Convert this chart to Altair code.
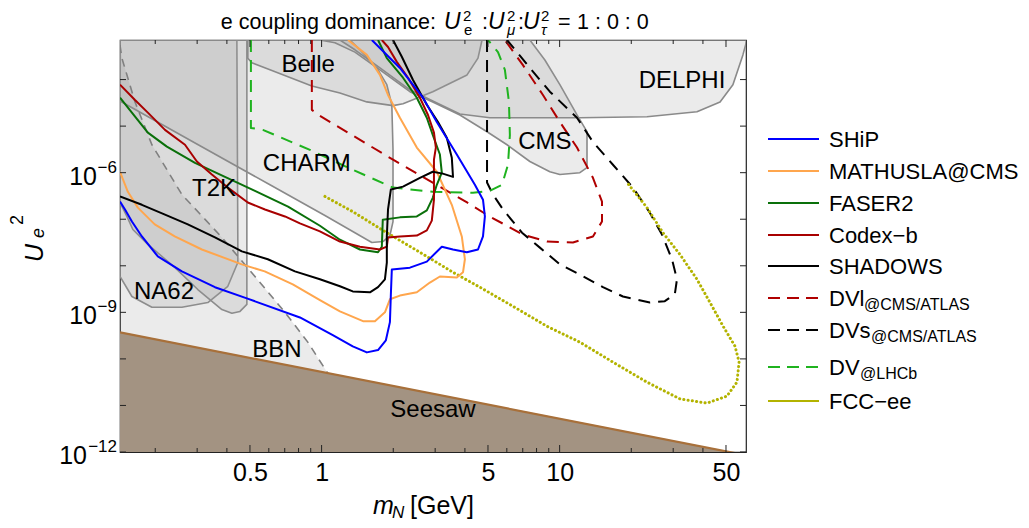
import altair as alt
import numpy as np
import pandas as pd

W, H = 626, 412
FONT = "Liberation Sans"
X_DOMAIN = [10 ** -0.847, 10 ** 1.783]
Y_DOMAIN = [1e-12, 10 ** -3.15]

# ---- sensitivity curves: log10(m_N / GeV), log10(U_e^2) ----
SHIP_LM = [-0.847, -0.826, -0.797, -0.755, -0.688, -0.587, -0.448, -0.314, -0.091, 0.047, 0.131, 0.190, 0.237, 0.270,
           0.287, 0.291, 0.295, 0.371, 0.442, 0.505, 0.552, 0.610, 0.657, 0.678, 0.686, 0.678, 0.644, 0.568, 0.484,
           0.426, 0.329, 0.211]
SHIP_LU = [-6.62, -6.79, -7.05, -7.37, -7.80, -8.12, -8.46, -8.70, -9.11, -9.49, -9.73, -9.86, -9.81, -9.60, -9.21,
           -8.61, -8.08, -8.04, -7.91, -7.59, -7.65, -7.71, -7.65, -7.37, -6.94, -6.58, -6.26, -5.61, -4.91, -4.39,
           -3.75, -3.15]
MATH_LM = [-0.847, -0.814, -0.772, -0.701, -0.617, -0.503, -0.335, -0.239, -0.121, -0.007, 0.077, 0.174, 0.224, 0.266,
           0.287, 0.329, 0.400, 0.455, 0.497, 0.568, 0.594, 0.602, 0.589, 0.547, 0.484, 0.400, 0.329, 0.279, 0.245,
           0.190, 0.111]
MATH_LU = [-5.98, -6.41, -6.75, -7.11, -7.37, -7.65, -7.97, -8.12, -8.40, -8.74, -8.98, -9.19, -9.19, -9.00, -8.72,
           -8.64, -8.57, -8.36, -8.23, -8.25, -8.14, -7.86, -7.37, -6.69, -5.98, -5.46, -4.82, -4.33, -3.90, -3.47,
           -3.15]
FASER_LM = [-0.847, -0.797, -0.730, -0.650, -0.532, -0.406, -0.280, -0.141, -0.007, 0.077, 0.161, 0.237, 0.253, 0.257,
            0.329, 0.400, 0.442, 0.467, 0.484, 0.505, 0.497, 0.467, 0.442, 0.400, 0.342, 0.274, 0.237]
FASER_LU = [-4.39, -4.71, -5.14, -5.44, -5.79, -6.09, -6.39, -6.73, -7.14, -7.44, -7.65, -7.71, -7.59, -7.01, -6.96,
            -6.94, -6.81, -6.54, -6.26, -6.00, -5.61, -5.19, -4.82, -4.39, -3.96, -3.54, -3.15]
CODEX_LM = [-0.847, -0.784, -0.730, -0.658, -0.574, -0.524, -0.461, -0.394, -0.310, -0.238, -0.154, -0.091, -0.007,
            0.077, 0.161, 0.245, 0.274, 0.279, 0.329, 0.400, 0.442, 0.463, 0.472, 0.472, 0.472, 0.480, 0.472, 0.447,
            0.413, 0.363, 0.316, 0.279, 0.253]
CODEX_LU = [-4.11, -4.44, -4.71, -5.08, -5.40, -5.76, -6.04, -6.32, -6.64, -6.79, -6.94, -7.09, -7.26, -7.48, -7.59,
            -7.65, -7.59, -7.39, -7.37, -7.35, -7.24, -7.03, -6.58, -6.09, -5.72, -5.46, -5.14, -4.76, -4.39, -3.96,
            -3.62, -3.30, -3.15]
SHADOWS_LM = [-0.847, -0.755, -0.658, -0.562, -0.448, -0.335, -0.226, -0.112, -0.007, 0.077, 0.131, 0.203, 0.237,
              0.266, 0.274, 0.274, 0.279, 0.291, 0.342, 0.413, 0.467, 0.509, 0.552, 0.547, 0.526, 0.489, 0.442, 0.384,
              0.337, 0.300]
SHADOWS_LU = [-6.51, -6.69, -6.90, -7.11, -7.39, -7.69, -7.86, -8.12, -8.29, -8.44, -8.55, -8.57, -8.46, -8.29, -7.93,
              -7.37, -6.79, -6.36, -6.30, -6.11, -5.98, -6.02, -6.09, -5.68, -5.25, -4.91, -4.54, -4.01, -3.51, -3.15]
DVL_LM = [-0.041, -0.041, -0.007, 0.300, 0.611, 0.699, 0.846, 0.947, 1.056, 1.140, 1.178, 1.178, 1.140, 1.073, 1.001,
          0.930, 0.846, 0.770]
DVL_LU = [-3.15, -4.65, -4.78, -5.72, -6.64, -6.92, -7.33, -7.48, -7.50, -7.37, -7.05, -6.62, -6.11, -5.46, -4.91,
          -4.33, -3.69, -3.15]
DVS_LM = [0.695, 0.695, 0.720, 0.762, 0.842, 0.917, 1.001, 1.085, 1.182, 1.266, 1.379, 1.442, 1.484, 1.493, 1.472,
          1.430, 1.379, 1.308, 1.224, 1.140, 1.073, 0.959, 0.875, 0.779]
DVS_LU = [-3.15, -6.21, -6.47, -6.79, -7.29, -7.61, -7.97, -8.19, -8.46, -8.66, -8.79, -8.76, -8.61, -8.29, -7.86,
          -7.33, -6.86, -6.32, -5.83, -5.34, -4.82, -4.26, -3.75, -3.15]
LHCB_LM = [-0.297, -0.297, -0.247, -0.049, 0.132, 0.300, 0.467, 0.636, 0.707, 0.758, 0.783, 0.791, 0.787, 0.770,
           0.741, 0.699]
LHCB_LU = [-3.15, -5.04, -5.08, -5.51, -5.94, -6.32, -6.41, -6.43, -6.39, -6.26, -5.83, -5.19, -4.48, -3.79, -3.41,
           -3.15]
FCC_LM = [0.014, 0.132, 0.274, 0.413, 0.552, 0.665, 0.804, 0.947, 1.085, 1.224, 1.367, 1.506, 1.619, 1.703, 1.745,
          1.754, 1.737, 1.687, 1.632, 1.577, 1.506, 1.434, 1.367, 1.283]
FCC_LU = [-6.51, -6.84, -7.29, -7.71, -8.14, -8.46, -8.87, -9.30, -9.64, -10.07, -10.50, -10.86, -10.95, -10.80,
          -10.50, -10.07, -9.73, -9.30, -8.79, -8.29, -7.76, -7.29, -6.75, -6.21]

# ---- excluded regions (closed contours) ----
CHARM_LM = [-0.847, 0.119, 0.161, 0.232, 0.274, 0.295, 0.300, 0.300, 0.287, 0.258, 0.211, 0.140, 0.014, -0.217,
            -0.511, -0.847]
CHARM_LU = [-3.15, -3.15, -3.36, -3.75, -4.11, -4.54, -5.51, -7.05, -7.35, -7.48, -7.50, -7.29, -6.92, -6.26, -5.42,
            -4.46]
BELLE_LM = [-0.310, -0.310, -0.293, -0.217, -0.041, 0.077, 0.190, 0.300, 0.342, 0.467, 0.611, 0.657, 0.674]
BELLE_LU = [-3.15, -3.54, -3.64, -3.79, -4.14, -4.29, -4.48, -4.56, -4.52, -4.26, -3.90, -3.54, -3.15]
CMS_LM = [-0.007, 0.875, 0.938, 1.001, 1.073, 1.115, 1.115, 1.085, 1.001, 0.959, 0.875, 0.779, 0.695, 0.581, 0.467,
          0.371, 0.245, 0.140, 0.056]
CMS_LU = [-3.15, -3.15, -3.58, -4.11, -4.76, -5.12, -5.89, -6.00, -6.04, -5.98, -5.76, -5.40, -5.12, -4.76, -4.48,
          -4.26, -3.79, -3.41, -3.21]
DELPHI_LM = [0.077, 1.787, 1.770, 1.728, 1.674, 1.577, 1.367, 1.085, 0.707, 0.581, 0.467, 0.371, 0.245, 0.140]
DELPHI_LU = [-3.15, -3.15, -3.47, -4.11, -4.48, -4.69, -4.80, -4.82, -4.82, -4.74, -4.46, -4.22, -3.75, -3.36]
NA62_LM = [-0.847, -0.356, -0.352, -0.352, -0.394, -0.478, -0.587, -0.713, -0.797, -0.847]
NA62_LU = [-3.15, -3.15, -7.44, -7.93, -8.44, -8.79, -8.89, -8.89, -8.66, -8.23]
T2K_LM = [-0.847, -0.314, -0.314, -0.343, -0.377, -0.419, -0.520, -0.616, -0.730, -0.793, -0.818, -0.847]
T2K_LU = [-3.15, -3.15, -8.83, -8.98, -9.02, -8.94, -8.51, -8.04, -7.54, -7.22, -6.94, -6.64]
BBN_LM = [-0.847, -0.839, -0.784, -0.713, -0.587, -0.419, -0.280, -0.154, -0.058, 0.026]
BBN_LU = [-3.26, -3.54, -4.48, -5.40, -6.47, -7.39, -8.23, -9.00, -9.64, -10.31]
SEESAW_LM = [-0.847, 1.783]
SEESAW_LU = [-9.43, -12.07]
FLOOR_LU = -12.1

LABEL_TEXT = ["Belle", "CHARM", "T2K", "NA62", "BBN", "Seesaw", "CMS", "DELPHI"]
LABEL_LM = [-0.056, -0.062, -0.452, -0.662, -0.188, 0.468, 0.938, 1.514]
LABEL_LU = [-3.69, -5.81, -6.34, -8.57, -9.81, -11.10, -5.34, -4.03]

X_LABELS = [0.5, 1, 5, 10, 50]
X_MINOR = [0.2, 0.3, 0.4, 0.6, 0.7, 0.8, 0.9, 2, 3, 4, 6, 7, 8, 9, 20, 30, 40]
Y_TICKS = [1e-12, 1e-11, 1e-10, 1e-9, 1e-8, 1e-7, 1e-6, 1e-5, 1e-4]
Y_LABELS = [1e-12, 1e-9, 1e-6]
Y_EXPONENTS = ["\u221212", "\u22129", "\u22126"]

LEGEND_NAMES = ["SHiP", "MATHUSLA@CMS", "FASER2", "Codex\u2212b", "SHADOWS", "DVl", "DVs", "DV", "FCC\u2212ee"]
LEGEND_SUBS = ["", "", "", "", "", "@CMS/ATLAS", "@CMS/ATLAS", "@LHCb", ""]
LEGEND_COLORS = ["#0000ff", "#ffa64d", "#0a700a", "#a80000", "#000000", "#b00000", "#000000", "#1fb31f", "#b3b300"]
LEGEND_DASHED = [False, False, False, False, False, True, True, True, False]

xs = alt.Scale(type="log", domain=X_DOMAIN, nice=False)
ys = alt.Scale(type="log", domain=Y_DOMAIN, nice=False)
X_AX = alt.Axis(values=X_LABELS, format="~g", ticks=False, domain=False, grid=False, labelFontSize=25,
                labelFont=FONT, labelColor="black", labelPadding=8, labelFlush=False)
XE = alt.X("m:Q", scale=xs, axis=X_AX, title=None)
YE = alt.Y("u:Q", scale=ys, axis=None, title=None)


def frame(lm, lu, close=False):
    lm, lu = list(lm), list(lu)
    assert len(lm) == len(lu)
    if close:
        lm, lu = lm + [lm[0]], lu + [lu[0]]
    return pd.DataFrame({"m": np.power(10.0, lm), "u": np.power(10.0, lu), "i": np.arange(len(lm))})


def curve(lm, lu, color, width=2.0, dash=None, close=False, cap="butt"):
    kw = dict(stroke=color, strokeWidth=width, clip=True, strokeCap=cap, strokeJoin="round")
    if dash:
        kw["strokeDash"] = dash
    return alt.Chart(frame(lm, lu, close)).mark_line(**kw).encode(x=XE, y=YE, order="i:Q")


def region(lm, lu, outline=True):
    kw = dict(fill="#9c9c9c", fillOpacity=0.2, clip=True, strokeJoin="round")
    if outline:
        kw.update(stroke="#8a8a8a", strokeWidth=1.6)
    else:
        kw.update(strokeWidth=0, stroke="#ffffff", strokeOpacity=0)
    return alt.Chart(frame(lm, lu, True)).mark_line(**kw).encode(x=XE, y=YE, order="i:Q")


def txt(text, x, y, size, italic=False, align="left", baseline="alphabetic", angle=0, color="black"):
    kw = dict(font=FONT, fontSize=size, align=align, baseline=baseline, color=color)
    if italic:
        kw["fontStyle"] = "italic"
    if angle:
        kw["angle"] = angle
    return alt.Chart(pd.DataFrame({"t": [text]})).mark_text(**kw).encode(
        text="t:N", x=alt.value(x), y=alt.value(y))


layers = []
# regions
for lm, lu in [(NA62_LM, NA62_LU), (T2K_LM, T2K_LU), (CHARM_LM, CHARM_LU), (BELLE_LM, BELLE_LU),
               (CMS_LM, CMS_LU), (DELPHI_LM, DELPHI_LU)]:
    layers.append(region(lm, lu))
layers.append(region(BBN_LM + [SEESAW_LM[0]], BBN_LU + [SEESAW_LU[0]], outline=False))
layers.append(curve(BBN_LM, BBN_LU, "#808080", width=1.6, dash=[8, 6]))
# seesaw
see_df = frame(SEESAW_LM + [SEESAW_LM[1], SEESAW_LM[0]], SEESAW_LU + [FLOOR_LU, FLOOR_LU], True)
layers.append(alt.Chart(see_df).mark_line(fill="#a39382", stroke="#a39382", strokeWidth=0.5, clip=True)
              .encode(x=XE, y=YE, order="i:Q"))
layers.append(curve(SEESAW_LM, SEESAW_LU, "#a8703a", width=2.2))

# sensitivity curves
layers.append(curve(DVL_LM, DVL_LU, "#b00000", dash=[12, 8]))
layers.append(curve(DVS_LM, DVS_LU, "#000000", dash=[12, 8]))
layers.append(curve(LHCB_LM, LHCB_LU, "#1fb31f", dash=[12, 8]))
layers.append(curve(FCC_LM, FCC_LU, "#b3b300", width=3, dash=[0.1, 4.2], cap="round"))
layers.append(curve(MATH_LM, MATH_LU, "#ffa64d"))
layers.append(curve(FASER_LM, FASER_LU, "#0a700a"))
layers.append(curve(CODEX_LM, CODEX_LU, "#a80000"))
layers.append(curve(SHADOWS_LM, SHADOWS_LU, "#000000"))
layers.append(curve(SHIP_LM, SHIP_LU, "#0000ff"))

# region labels
lab_df = pd.DataFrame({"m": np.power(10.0, LABEL_LM), "u": np.power(10.0, LABEL_LU), "t": LABEL_TEXT})
layers.append(alt.Chart(lab_df).mark_text(font=FONT, fontSize=24, align="center", baseline="middle", color="black")
              .encode(x=XE, y=YE, text="t:N"))

# inward frame ticks
xt_major = pd.DataFrame({"m": X_LABELS})
xt_minor = pd.DataFrame({"m": X_MINOR})
yt = pd.DataFrame({"u": Y_TICKS})
tick_kw = dict(color="#222222", strokeWidth=1)
for d, ln in [(xt_major, 7), (xt_minor, 4)]:
    layers.append(alt.Chart(d).mark_rule(**tick_kw).encode(x=XE, y=alt.value(H), y2=alt.value(H - ln)))
    layers.append(alt.Chart(d).mark_rule(**tick_kw).encode(x=XE, y=alt.value(0), y2=alt.value(ln)))
layers.append(alt.Chart(yt).mark_rule(**tick_kw).encode(y=YE, x=alt.value(0), x2=alt.value(6)))
layers.append(alt.Chart(yt).mark_rule(**tick_kw).encode(y=YE, x=alt.value(W), x2=alt.value(W - 6)))

# y tick labels: 10 with superscript exponent, placed at the tick value
ylab = pd.DataFrame({"u": Y_LABELS, "e": Y_EXPONENTS, "b": ["10"] * len(Y_LABELS)})
layers.append(alt.Chart(ylab).mark_text(font=FONT, fontSize=17, align="right", baseline="alphabetic",
                                        color="black").encode(y=YE, x=alt.value(-3), text="e:N"))
for k, ex in enumerate(Y_EXPONENTS):
    off = 33 if len(ex) > 2 else 23
    layers.append(alt.Chart(ylab.iloc[[k]]).mark_text(font=FONT, fontSize=25, align="right", baseline="alphabetic",
                                                      dy=12, color="black").encode(y=YE, x=alt.value(-off), text="b:N"))

# title
layers += [
    txt("e coupling dominance:", 316, -11, 21.5, align="right"),
    txt("U", 324, -11, 23, italic=True), txt("2", 343, -19, 15), txt("e", 344, -5, 15),
    txt(":", 362, -11, 21.5),
    txt("U", 368, -11, 23, italic=True), txt("2", 387, -19, 15), txt("\u03bc", 387, -5, 15, italic=True),
    txt(":", 398, -11, 21.5),
    txt("U", 403, -11, 23, italic=True), txt("2", 421, -19, 15), txt("\u03c4", 421, -5, 15, italic=True),
    txt("=", 438, -11, 21.5), txt("1 : 0 : 0", 457, -11, 21.5),
]
# axis titles
layers += [
    txt("m", 253, 474, 25, italic=True), txt("N", 272, 478, 17, italic=True), txt("[GeV]", 290, 474, 25),
    txt("U", -77, 213, 25, italic=True, align="center", angle=270),
    txt("e", -76, 193, 18, italic=True, align="center", angle=270),
    txt("2", -97, 180, 18, align="center", angle=270),
]
# legend
ROW_Y = [99, 131, 163, 195, 226, 258, 290, 327, 361]
SUB_X = [0, 0, 0, 0, 0, 744, 751, 740, 0]
for k, name in enumerate(LEGEND_NAMES):
    y = ROW_Y[k]
    rk = dict(color=LEGEND_COLORS[k], strokeWidth=2.2)
    if LEGEND_DASHED[k]:
        rk["strokeDash"] = [12, 7]
    layers.append(alt.Chart(pd.DataFrame({"t": [name]})).mark_rule(**rk).encode(
        x=alt.value(648), x2=alt.value(699), y=alt.value(y)))
    layers.append(txt(name, 709, y + 8, 22))
    if LEGEND_SUBS[k]:
        layers.append(txt(LEGEND_SUBS[k], SUB_X[k], y + 12, 16))

chart = alt.layer(*layers).properties(
    width=W, height=H,
    padding={"left": 112, "top": 32, "right": 275, "bottom": 68},
    autosize=alt.AutoSizeParams(type="none"),
    background="white",
).configure_view(stroke="#222222", strokeWidth=1.2)

chart.save("out.html", embed_options={"renderer": "svg", "actions": False})
